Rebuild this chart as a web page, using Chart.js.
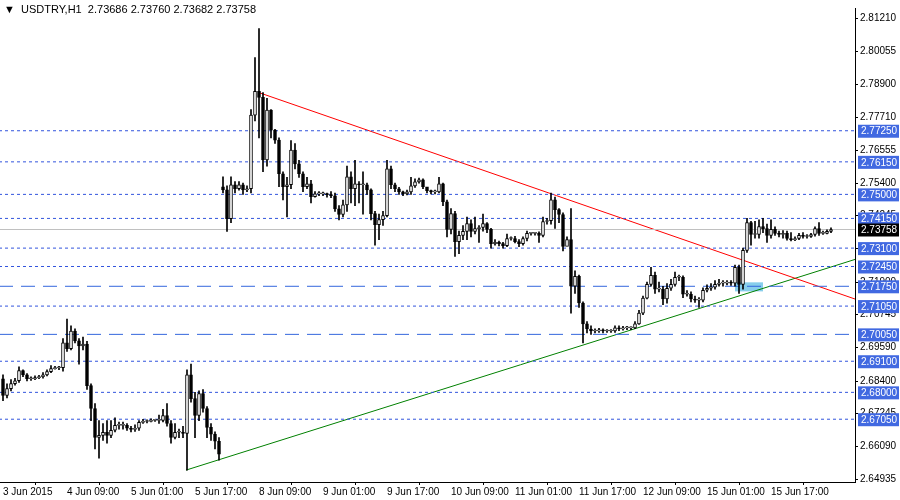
<!DOCTYPE html>
<html><head><meta charset="utf-8">
<script src="https://cdn.jsdelivr.net/npm/chart.js@4.4.0/dist/chart.umd.min.js"></script>
<style>html,body{margin:0;padding:0;background:#fff}#wrap{width:900px;height:500px;position:relative}</style>
</head><body><div id="wrap"><canvas id="c" width="900" height="500"></canvas></div>
<script>
// USDTRY H1 candles, 3 Jun - 15 Jun 2015
const closes=[2.6789,2.6813,2.6831,2.6841,2.6877,2.6862,2.6848,2.6848,2.6852,2.6855,
2.6862,2.6873,2.6884,2.6887,2.6887,2.6975,2.6954,2.7017,2.6982,2.6964,
2.6971,2.6824,2.6743,2.6641,2.6648,2.6659,2.6648,2.6666,2.6683,2.6683,
2.6683,2.6673,2.6669,2.6673,2.6694,2.6697,2.6697,2.6701,2.6701,2.6701,
2.6718,2.6690,2.6641,2.6659,2.6659,2.6655,2.6862,2.6778,2.6718,2.6796,
2.6743,2.6676,2.6652,2.6627,2.6581,
2.7516,2.7414,2.7534,2.7520,2.7534,2.7516,2.7520,2.7780,2.7864,2.7843,
2.7622,2.7798,2.7727,2.7692,2.7573,2.7527,2.7534,2.7657,2.7608,2.7573,
2.7527,2.7537,2.7492,2.7502,2.7502,2.7502,2.7499,2.7495,2.7449,2.7429,
2.7463,2.7562,2.7520,2.7537,2.7534,2.7534,2.7516,2.7432,2.7393,2.7411,
2.7425,2.7590,2.7534,2.7520,2.7509,2.7502,2.7509,2.7530,2.7544,2.7551,
2.7527,2.7513,2.7509,2.7509,2.7537,2.7474,2.7376,2.7432,2.7333,2.7355,
2.7369,2.7397,2.7369,2.7379,2.7383,2.7397,2.7376,2.7326,2.7330,2.7326,
2.7319,2.7344,2.7344,2.7333,2.7326,2.7344,2.7362,2.7362,2.7362,2.7355,
2.7404,2.7407,2.7481,2.7446,2.7429,2.7316,2.7340,2.7175,2.7210,2.7116,
2.7042,2.7024,2.7017,2.7017,2.7021,2.7017,2.7017,2.7017,2.7028,2.7024,
2.7028,2.7028,2.7028,2.7042,2.7080,2.7133,2.7182,2.7214,2.7165,2.7165,
2.7130,2.7168,2.7182,2.7207,2.7207,2.7147,2.7147,2.7130,2.7126,2.7126,
2.7161,2.7168,2.7172,2.7182,2.7186,2.7186,2.7189,2.7186,2.7242,2.7182,
2.7302,2.7400,2.7358,2.7358,2.7386,2.7379,2.7355,2.7376,2.7362,2.7358,
2.7362,2.7344,2.7340,2.7344,2.7355,2.7351,2.7351,2.7358,2.7379,2.7362,
2.7362,2.7369,2.73758];
const highs=[2.6862,2.6830,2.6845,2.6850,2.6890,2.6880,2.6866,2.6855,2.6858,2.6860,
2.6870,2.6880,2.6895,2.6892,2.6892,2.6990,2.7059,2.7035,2.7025,2.6990,
2.6995,2.6980,2.6830,2.6760,2.6700,2.6690,2.6700,2.6700,2.6710,2.6695,
2.6695,2.6690,2.6680,2.6685,2.6700,2.6705,2.6703,2.6706,2.6705,2.6720,
2.6740,2.6760,2.6700,2.6690,2.6670,2.6680,2.6880,2.6900,2.6800,2.6805,
2.6810,2.6750,2.6690,2.6660,2.6640,
2.7562,2.7530,2.7562,2.7545,2.7545,2.7540,2.7530,2.7800,2.7984,2.8086,
2.7860,2.7840,2.7800,2.7730,2.7700,2.7580,2.7560,2.7690,2.7680,2.7620,
2.7580,2.7560,2.7550,2.7510,2.7510,2.7508,2.7505,2.7510,2.7505,2.7460,
2.7480,2.7600,2.7580,2.7620,2.7545,2.7580,2.7540,2.7520,2.7440,2.7430,
2.7440,2.7620,2.7600,2.7540,2.7525,2.7512,2.7515,2.7560,2.7555,2.7558,
2.7555,2.7520,2.7515,2.7515,2.7560,2.7540,2.7480,2.7450,2.7440,2.7370,
2.7390,2.7420,2.7410,2.7420,2.7390,2.7430,2.7400,2.7380,2.7340,2.7335,
2.7330,2.7360,2.7350,2.7352,2.7340,2.7350,2.7370,2.7366,2.7366,2.7368,
2.7420,2.7415,2.7505,2.7490,2.7450,2.7435,2.7350,2.7450,2.7230,2.7215,
2.7120,2.7050,2.7035,2.7025,2.7026,2.7025,2.7022,2.7022,2.7035,2.7035,
2.7033,2.7033,2.7032,2.7050,2.7090,2.7140,2.7190,2.7242,2.7225,2.7190,
2.7175,2.7185,2.7200,2.7225,2.7215,2.7212,2.7160,2.7155,2.7140,2.7135,
2.7170,2.7180,2.7185,2.7195,2.7200,2.7195,2.7195,2.7195,2.7250,2.7250,
2.7310,2.7415,2.7405,2.7405,2.7410,2.7415,2.7395,2.7410,2.7385,2.7370,
2.7372,2.7370,2.7365,2.7350,2.7362,2.7365,2.7358,2.7362,2.7385,2.7400,
2.7370,2.7375,2.7382];
const lows=[2.6771,2.6780,2.6805,2.6825,2.6835,2.6855,2.6840,2.6842,2.6845,2.6848,
2.6850,2.6858,2.6870,2.6882,2.6880,2.6875,2.6945,2.6950,2.6975,2.6900,
2.6950,2.6810,2.6700,2.6600,2.6567,2.6630,2.6620,2.6640,2.6660,2.6670,
2.6670,2.6665,2.6660,2.6662,2.6665,2.6690,2.6692,2.6695,2.6697,2.6690,
2.6695,2.6680,2.6620,2.6635,2.6640,2.6640,2.6525,2.6765,2.6640,2.6700,
2.6730,2.6640,2.6630,2.6600,2.6560,
2.7505,2.7369,2.7400,2.7505,2.7515,2.7500,2.7510,2.7505,2.7760,2.7700,
2.7580,2.7600,2.7700,2.7680,2.7527,2.7480,2.7420,2.7520,2.7590,2.7560,
2.7510,2.7520,2.7470,2.7490,2.7495,2.7495,2.7490,2.7488,2.7440,2.7410,
2.7420,2.7440,2.7470,2.7460,2.7470,2.7430,2.7500,2.7410,2.7320,2.7340,
2.7390,2.7420,2.7520,2.7510,2.7500,2.7495,2.7498,2.7500,2.7525,2.7540,
2.7520,2.7505,2.7502,2.7502,2.7505,2.7460,2.7350,2.7360,2.7281,2.7290,
2.7340,2.7340,2.7350,2.7360,2.7330,2.7370,2.7365,2.7310,2.7320,2.7318,
2.7310,2.7315,2.7338,2.7328,2.7315,2.7320,2.7335,2.7356,2.7356,2.7330,
2.7350,2.7395,2.7395,2.7380,2.7400,2.7300,2.7320,2.7080,2.7150,2.7100,
2.6975,2.7010,2.7005,2.7010,2.7012,2.7010,2.7012,2.7012,2.7012,2.7018,
2.7020,2.7022,2.7022,2.7025,2.7040,2.7075,2.7130,2.7175,2.7150,2.7155,
2.7110,2.7115,2.7160,2.7175,2.7195,2.7135,2.7140,2.7120,2.7118,2.7100,
2.7120,2.7155,2.7160,2.7165,2.7175,2.7175,2.7180,2.7178,2.7175,2.7150,
2.7165,2.7295,2.7320,2.7345,2.7345,2.7365,2.7330,2.7345,2.7355,2.7350,
2.7345,2.7338,2.7335,2.7336,2.7340,2.7345,2.7345,2.7348,2.7352,2.7355,
2.7358,2.7360,2.7365];
const firstOpen=2.6848;
const gapIndex=55, gapOpen=2.7527; // Monday open after weekend gap
const levelsShort=[2.7725,2.7615,2.7500,2.7415,2.7310,2.7245,2.7105,2.6910,2.6800,2.6705];
const levelsLong=[2.7175,2.7005];
const lastPrice=2.73758;
const axisTicks=[2.81210,2.80055,2.78900,2.77710,2.76555,2.75400,2.74245,2.73090,2.71900,2.70745,2.69590,2.68400,2.67245,2.66090,2.64935];
const timeLabels=["3 Jun 2015","4 Jun 09:00","5 Jun 01:00","5 Jun 17:00","8 Jun 09:00","9 Jun 01:00","9 Jun 17:00","10 Jun 09:00","11 Jun 01:00","11 Jun 17:00","12 Jun 09:00","15 Jun 01:00","15 Jun 17:00"];
const redLine=[{x:63.75,y:2.7861},{x:213,y:2.7130}];
const greenLine=[{x:45.75,y:2.6525},{x:213,y:2.7270}];
const box={x0:183,x1:190,y0:2.7189,y1:2.7157};

const opens=closes.map((c,i)=>i===0?firstOpen:(i===gapIndex?gapOpen:closes[i-1]));
const wicks=closes.map((c,i)=>({x:i,y:[lows[i],highs[i]]}));
const bodies=closes.map((c,i)=>({x:i,y:[opens[i],c]}));
const bodyColor=closes.map((c,i)=>c>=opens[i]?"#fff":"#000");

function hline(v){return [{x:-1,y:v},{x:213,y:v}];}
const lineSets=[];
levelsShort.forEach(v=>lineSets.push({type:"line",data:hline(v),borderColor:"#3355dd",borderWidth:1,borderDash:[3,3],pointRadius:0}));
levelsLong.forEach(v=>lineSets.push({type:"line",data:hline(v),borderColor:"#3366dd",borderWidth:1,borderDash:[14,8],pointRadius:0}));
lineSets.push({type:"line",data:hline(lastPrice),borderColor:"#c0c0c0",borderWidth:1,pointRadius:0});
lineSets.push({type:"line",data:redLine,borderColor:"#ff0000",borderWidth:1,pointRadius:0});
lineSets.push({type:"line",data:greenLine,borderColor:"#008000",borderWidth:1,pointRadius:0});

const boxPlugin={id:"box",beforeDatasetsDraw(ch){
  const x=ch.scales.x,y=ch.scales.y,ctx=ch.ctx;
  ctx.save();ctx.fillStyle="#87ceeb";
  ctx.fillRect(x.getPixelForValue(box.x0),y.getPixelForValue(box.y0),x.getPixelForValue(box.x1)-x.getPixelForValue(box.x0),y.getPixelForValue(box.y1)-y.getPixelForValue(box.y0));
  ctx.restore();
},afterDraw(ch){
  const y=ch.scales.y,ctx=ch.ctx,a=ch.chartArea;
  ctx.save();ctx.font="10px 'Liberation Sans'";ctx.textBaseline="middle";
  const tag=(v,bg)=>{const py=y.getPixelForValue(v);ctx.fillStyle=bg;ctx.fillRect(a.right+3,py-6,41,13);ctx.fillStyle="#fff";ctx.fillText(v.toFixed(5),a.right+6,py+1);};
  levelsShort.concat(levelsLong).forEach(v=>tag(v,"#4169e1"));
  tag(lastPrice,"#000");
  ctx.font="11px 'Liberation Sans'";
  ctx.fillStyle="#000";ctx.fillText("\u25BC  USDTRY,H1  2.73686 2.73760 2.73682 2.73758",4,10);
  ctx.restore();
}};

new Chart(document.getElementById("c"),{
  data:{datasets:[
    {type:"bar",data:wicks,backgroundColor:"#000",barThickness:1,grouped:false,order:2},
    {type:"bar",data:bodies,backgroundColor:bodyColor,borderColor:"#000",borderWidth:1,borderSkipped:false,barThickness:3,minBarLength:1,grouped:false,order:1},
    ...lineSets.map(s=>Object.assign(s,{order:3}))
  ]},
  options:{responsive:false,animation:false,devicePixelRatio:1,
    layout:{padding:{top:5,left:0,right:0,bottom:0}},
    plugins:{legend:{display:false},tooltip:{enabled:false}},
    scales:{
      x:{type:"linear",min:-0.75,max:213,offset:false,
        afterBuildTicks:s=>{s.ticks=timeLabels.map((t,i)=>({value:i*16}));},
        afterFit:s=>{s.height=18;},
        ticks:{callback:(v)=>timeLabels[v/16],maxRotation:0,autoSkip:false,align:"start",padding:1,color:"#000",font:{size:10,family:"'Liberation Sans'"}},
        grid:{drawOnChartArea:false,tickLength:3,color:"#000"},border:{color:"#000"}},
      y:{position:"right",min:2.6483,max:2.8159,
        afterBuildTicks:s=>{s.ticks=axisTicks.map(v=>({value:v}));},
        afterFit:s=>{s.width=45;},
        ticks:{callback:v=>v.toFixed(5),padding:2,color:"#000",font:{size:10,family:"'Liberation Sans'"}},
        grid:{drawOnChartArea:false,tickLength:3,color:"#000"},border:{color:"#000"}}
    }},
  plugins:[boxPlugin]
});
</script></body></html>
